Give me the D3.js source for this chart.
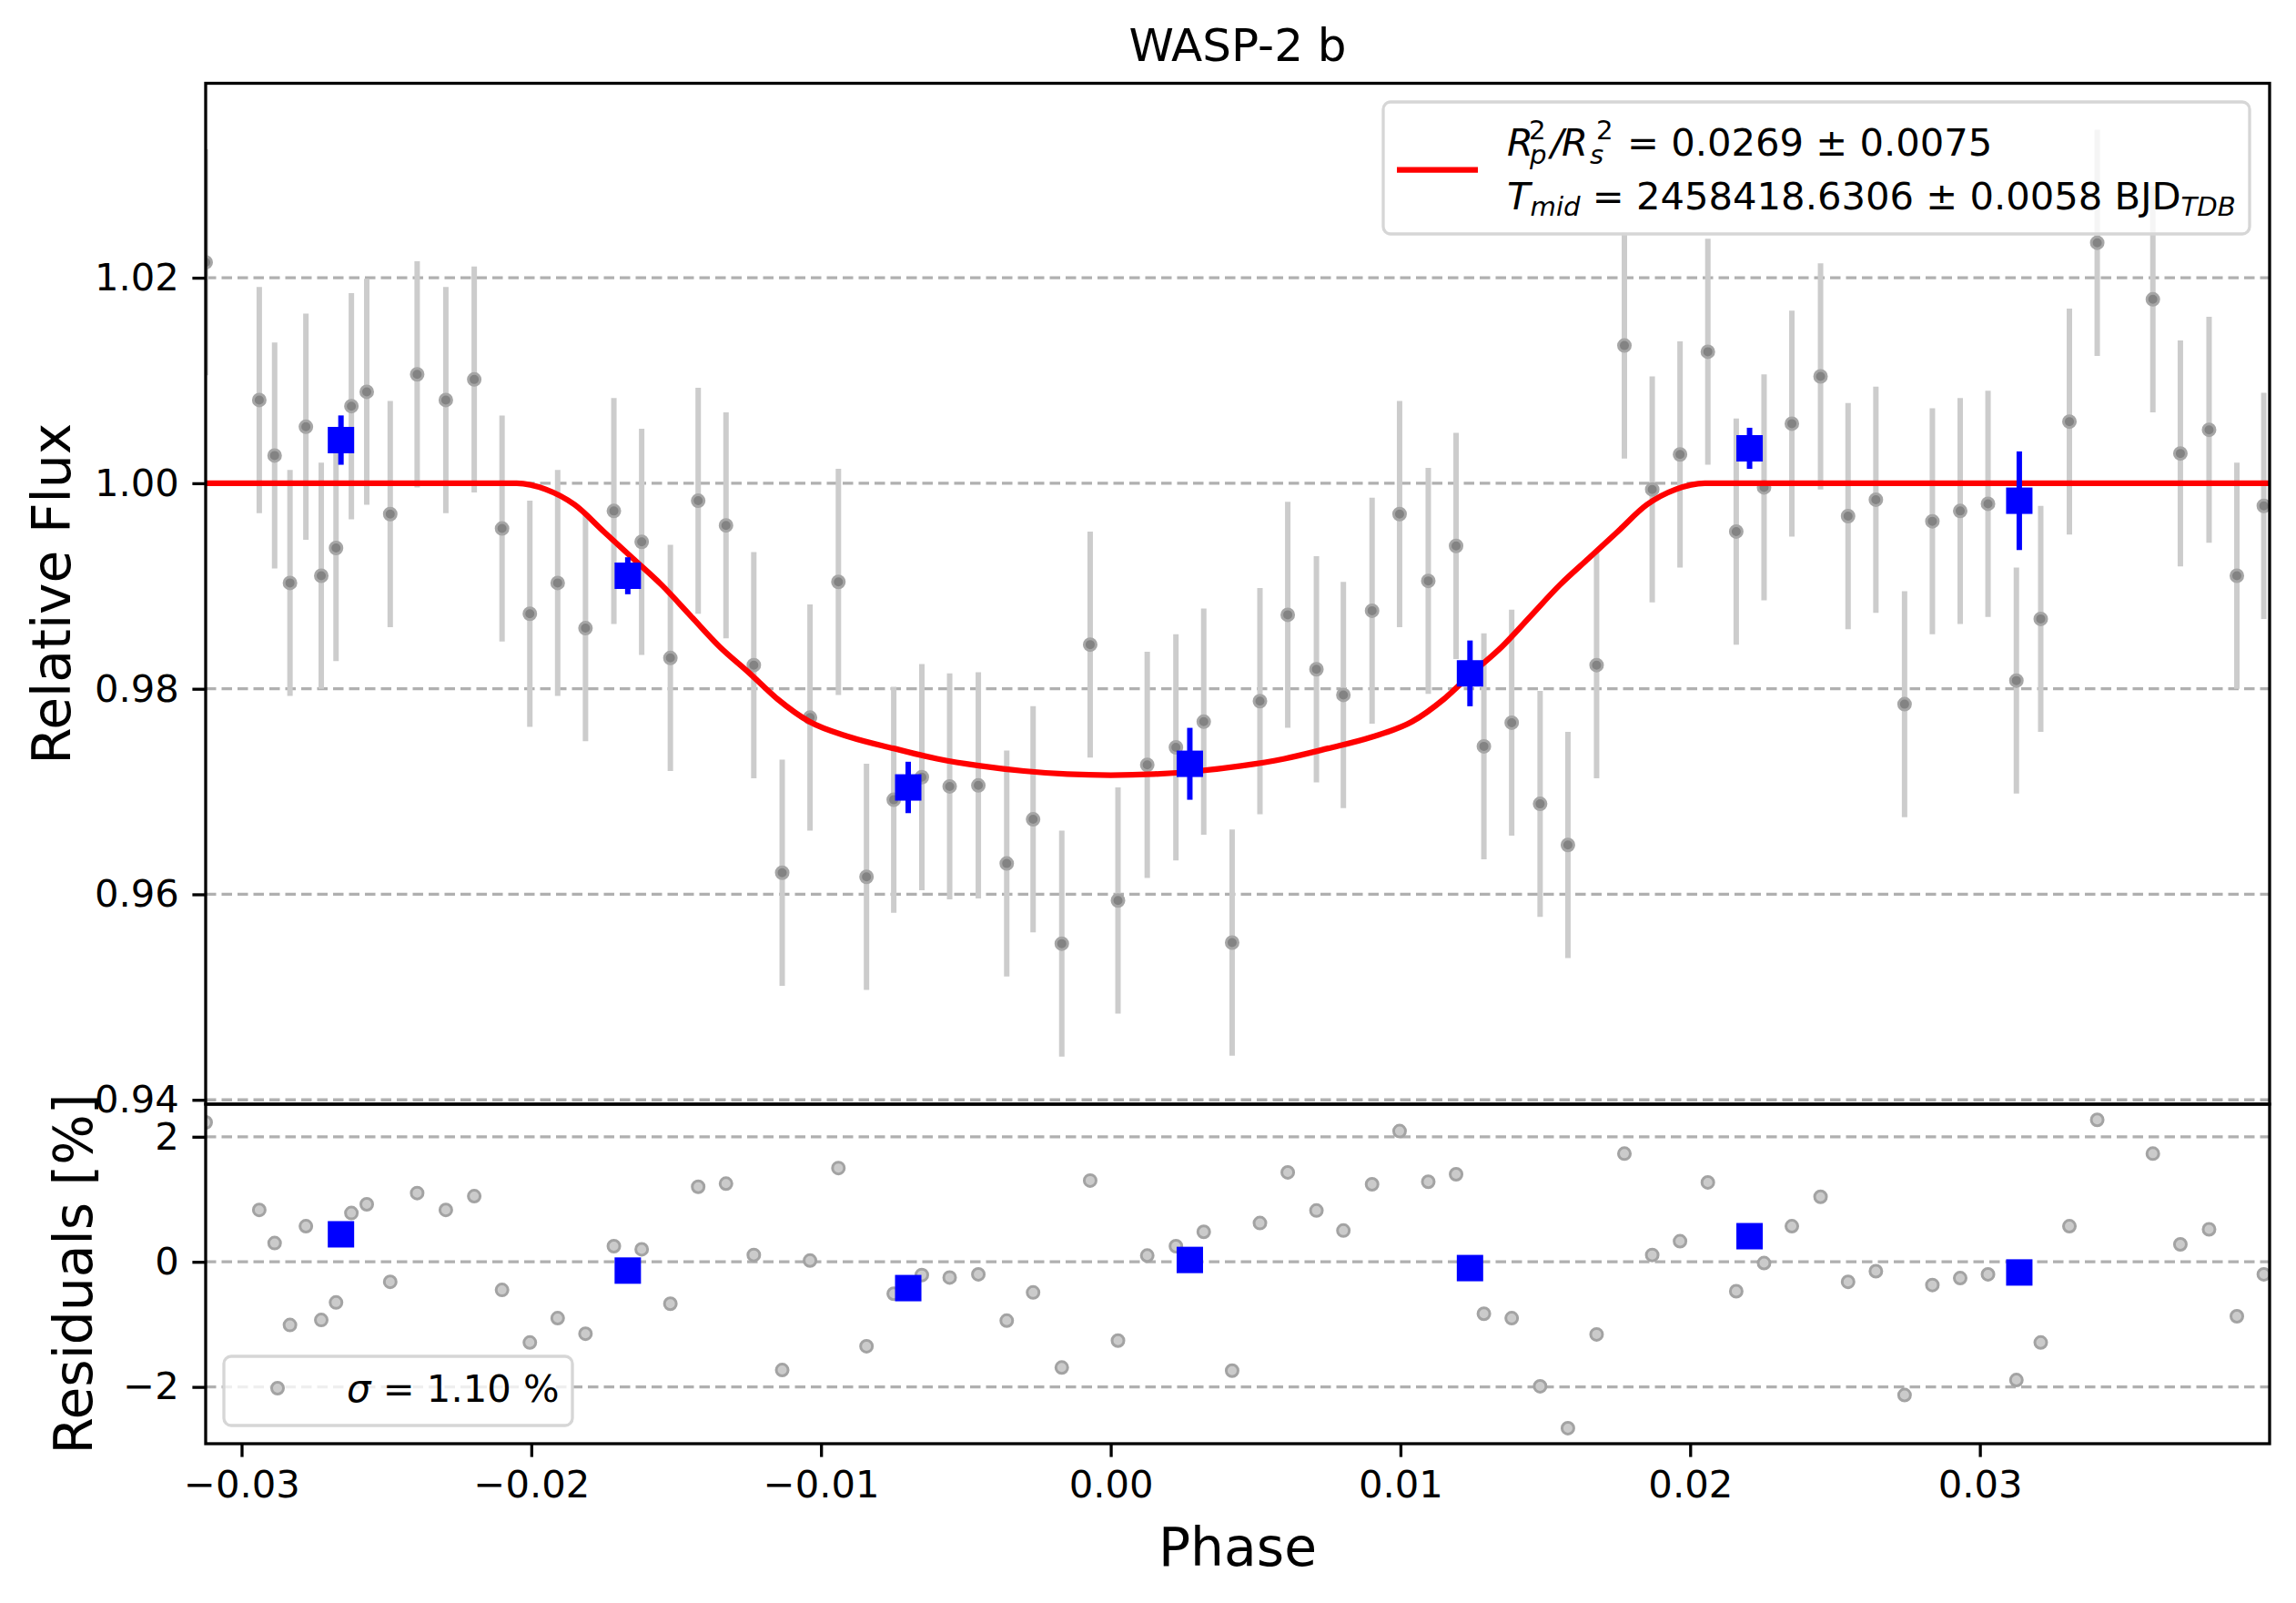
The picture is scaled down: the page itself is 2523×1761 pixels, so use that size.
<!DOCTYPE html>
<html>
<head>
<meta charset="utf-8">
<script src="https://cdn.jsdelivr.net/npm/d3@7"></script>
<style>
  body { margin: 0; background: #fff; }
  svg { display: block; font-family: "DejaVu Sans", sans-serif; }
</style>
</head>
<body>
<div id="chart"></div>
<script>
// phase / flux of the unbinned points
var phase = [-0.03124, -0.02939, -0.02886, -0.02833, -0.02778, -0.02725, -0.02674, -0.02621, -0.02568, -0.02487,
    -0.02394, -0.02295, -0.02197, -0.02101, -0.02005, -0.01909, -0.01813, -0.01715, -0.01619, -0.01520,
    -0.01424, -0.01328, -0.01232, -0.01134, -0.01038, -0.00940, -0.00843, -0.00749, -0.00652, -0.00556,
    -0.00457, -0.00359, -0.00268, -0.00169, -0.00071, 0.00025, 0.00126, 0.00225, 0.00321, 0.00419,
    0.00515, 0.00611, 0.00710, 0.00803, 0.00902, 0.00997, 0.01096, 0.01192, 0.01288, 0.01384,
    0.01482, 0.01578, 0.01677, 0.01773, 0.01869, 0.01965, 0.02061, 0.02159, 0.02255, 0.02351,
    0.02450, 0.02545, 0.02641, 0.02740, 0.02836, 0.02932, 0.03028, 0.03126, 0.03210, 0.03309,
    0.03405, 0.03597, 0.03692, 0.03791, 0.03887, 0.03980];
var flux = [1.0215, 1.0081, 1.0027, 0.9903, 1.0055, 0.9910, 0.9937, 1.0075, 1.0089, 0.9970,
    1.0106, 1.0081, 1.0101, 0.9956, 0.9873, 0.9903, 0.9859, 0.9973, 0.9943, 0.9830,
    0.9983, 0.9959, 0.9823, 0.9621, 0.9772, 0.9904, 0.9617, 0.9692, 0.9714, 0.9705,
    0.9706, 0.9630, 0.9673, 0.9552, 0.9843, 0.9594, 0.9726, 0.9743, 0.9768, 0.9553,
    0.9788, 0.9872, 0.9819, 0.9794, 0.9876, 0.9970, 0.9905, 0.9939, 0.9744, 0.9767,
    0.9688, 0.9648, 0.9823, 1.0134, 0.9994, 1.0028, 1.0128, 0.9953, 0.9996, 1.0058,
    1.0104, 0.9968, 0.9984, 0.9785, 0.9963, 0.9973, 0.9980, 0.9808, 0.9868, 1.0060,
    1.0234, 1.0179, 1.0029, 1.0052, 0.9910, 0.9978];
var fluxErr = 0.011;
var residual = [2.23, 0.83, 0.30, -1.01, 0.57, -0.93, -0.65, 0.78, 0.92, -0.32,
    1.10, 0.83, 1.05, -0.45, -1.29, -0.90, -1.15, 0.25, 0.20, -0.67,
    1.20, 1.25, 0.11, -1.73, 0.02, 1.50, -1.35, -0.51, -0.21, -0.25,
    -0.20, -0.94, -0.49, -1.69, 1.30, -1.26, 0.10, 0.25, 0.48, -1.74,
    0.62, 1.43, 0.82, 0.50, 1.24, 2.09, 1.28, 1.40, -0.83, -0.90,
    -1.99, -2.66, -1.16, 1.73, 0.11, 0.33, 1.27, -0.47, -0.02, 0.57,
    1.04, -0.32, -0.15, -2.13, -0.37, -0.26, -0.20, -1.89, -1.29, 0.57,
    2.27, 1.73, 0.28, 0.52, -0.87, -0.20];

// binned points
var binPhase = [-0.02657, -0.01667, -0.00699, 0.00273, 0.01240, 0.02205, 0.03136];
var binFlux = [1.0042, 0.9910, 0.9704, 0.9727, 0.9815, 1.0034, 0.9983];
var binErr = [0.0024, 0.0018, 0.0025, 0.0035, 0.0032, 0.0020, 0.0048];
var binResidual = [0.44, -0.14, -0.42, 0.03, -0.10, 0.41, -0.17];

// transit model
var modelPhase = [-0.0313, -0.0205, -0.0195, -0.0185, -0.0175, -0.0165, -0.0155, -0.0145, -0.0135, -0.0125,
    -0.0115, -0.0104, -0.0090, -0.0075, -0.0060, -0.0045, -0.0030, -0.0015, 0.0000, 0.0015,
    0.0030, 0.0045, 0.0060, 0.0075, 0.0090, 0.0104, 0.0115, 0.0125, 0.0135, 0.0145,
    0.0155, 0.0165, 0.0175, 0.0185, 0.0195, 0.0205, 0.0400];
var modelFlux = [1.0000, 1.0000, 0.9994, 0.9979, 0.9953, 0.9927, 0.9901, 0.9871, 0.9841, 0.9816,
    0.9790, 0.9768, 0.9753, 0.9742, 0.9732, 0.9725, 0.9720, 0.9717, 0.9716, 0.9717,
    0.9720, 0.9725, 0.9732, 0.9742, 0.9753, 0.9768, 0.9790, 0.9816, 0.9841, 0.9871,
    0.9901, 0.9927, 0.9953, 0.9979, 0.9994, 1.0000, 1.0000];

var xTicks = [-0.03, -0.02, -0.01, 0.00, 0.01, 0.02, 0.03];
var fluxTicks = [0.94, 0.96, 0.98, 1.00, 1.02];
var resTicks = [-2, 0, 2];

var W = 2523, H = 1761;
var axLeft = 226, axRight = 2494, axTop = 91.5, axMid = 1213, axBottom = 1586;
var tickLen = 14.6, lw = 3.3;

var svg = d3.select("#chart").append("svg")
    .attr("width", W)
    .attr("height", H);
svg.append("rect").attr("width", W).attr("height", H).attr("fill", "#fff");

var x = d3.scaleLinear().domain([-0.03124, 0.04]).range([axLeft, axRight]);
var y = d3.scaleLinear().domain([0.93958, 1.03892]).range([axMid, axTop]);
var yr = d3.scaleLinear().domain([-2.908, 2.521]).range([axBottom, axMid]);

var defs = svg.append("defs");
defs.append("clipPath").attr("id", "clipTop")
    .append("rect").attr("x", axLeft).attr("y", axTop).attr("width", axRight - axLeft).attr("height", axMid - axTop);
defs.append("clipPath").attr("id", "clipBot")
    .append("rect").attr("x", axLeft).attr("y", axMid).attr("width", axRight - axLeft).attr("height", axBottom - axMid);

function grid(scale, ticks) {
    svg.append("g").selectAll("line")
        .data(ticks)
        .enter().append("line")
        .attr("x1", axLeft).attr("x2", axRight)
        .attr("y1", function(d) { return scale(d); })
        .attr("y2", function(d) { return scale(d); })
        .attr("stroke", "#b0b0b0")
        .attr("stroke-width", lw)
        .attr("stroke-dasharray", "11.5,6");
}
grid(y, fluxTicks);
grid(yr, resTicks);

var pts = d3.range(phase.length);

// top panel: unbinned data with error bars
var topG = svg.append("g").attr("clip-path", "url(#clipTop)");
topG.selectAll("line.err")
    .data(pts)
    .enter().append("line")
    .attr("class", "err")
    .attr("x1", function(i) { return x(phase[i]); })
    .attr("x2", function(i) { return x(phase[i]); })
    .attr("y1", function(i) { return y(flux[i] - fluxErr); })
    .attr("y2", function(i) { return y(flux[i] + fluxErr); })
    .attr("stroke", "#cccccc")
    .attr("stroke-width", 6);
topG.selectAll("circle")
    .data(pts)
    .enter().append("circle")
    .attr("cx", function(i) { return x(phase[i]); })
    .attr("cy", function(i) { return y(flux[i]); })
    .attr("r", 6.5)
    .style("fill", "#838383")
    .style("stroke", "#a6a6a6")
    .style("stroke-width", 3);

var line = d3.line()
    .x(function(i) { return x(modelPhase[i]); })
    .y(function(i) { return y(modelFlux[i]); })
    .curve(d3.curveMonotoneX);
topG.append("path")
    .attr("d", line(d3.range(modelPhase.length)))
    .attr("fill", "none")
    .attr("stroke", "#ff0000")
    .attr("stroke-width", 6.25);

var bins = d3.range(binPhase.length);
topG.selectAll("line.berr")
    .data(bins)
    .enter().append("line")
    .attr("class", "berr")
    .attr("x1", function(i) { return x(binPhase[i]); })
    .attr("x2", function(i) { return x(binPhase[i]); })
    .attr("y1", function(i) { return y(binFlux[i] - binErr[i]); })
    .attr("y2", function(i) { return y(binFlux[i] + binErr[i]); })
    .attr("stroke", "#0000ff")
    .attr("stroke-width", 6);
topG.selectAll("rect.bin")
    .data(bins)
    .enter().append("rect")
    .attr("class", "bin")
    .attr("x", function(i) { return x(binPhase[i]) - 14.5; })
    .attr("y", function(i) { return y(binFlux[i]) - 14.5; })
    .attr("width", 29).attr("height", 29)
    .attr("fill", "#0000ff");

// bottom panel: residuals
var botG = svg.append("g").attr("clip-path", "url(#clipBot)");
botG.selectAll("circle")
    .data(pts)
    .enter().append("circle")
    .attr("cx", function(i) { return x(phase[i]); })
    .attr("cy", function(i) { return yr(residual[i]); })
    .attr("r", 6.5)
    .style("fill", "#cbcbcb")
    .style("stroke", "#a3a3a3")
    .style("stroke-width", 3);
botG.selectAll("rect")
    .data(bins)
    .enter().append("rect")
    .attr("x", function(i) { return x(binPhase[i]) - 14.5; })
    .attr("y", function(i) { return yr(binResidual[i]) - 14.5; })
    .attr("width", 29).attr("height", 29)
    .attr("fill", "#0000ff");

// frames
[[axTop, axMid], [axMid, axBottom]].forEach(function(b) {
    svg.append("rect")
        .attr("x", axLeft).attr("y", b[0])
        .attr("width", axRight - axLeft).attr("height", b[1] - b[0])
        .attr("fill", "none").attr("stroke", "#000").attr("stroke-width", lw);
});

function styleAxis(g) {
    g.select(".domain").remove();
    g.selectAll(".tick line").attr("stroke", "#000").attr("stroke-width", lw);
    g.selectAll(".tick text").attr("fill", "#000")
        .style("font-family", "DejaVu Sans").style("font-size", "41.7px");
}

svg.append("g")
    .attr("transform", "translate(" + axLeft + ",0)")
    .call(d3.axisLeft(y).tickValues(fluxTicks).tickFormat(d3.format(".2f"))
        .tickSize(tickLen).tickPadding(tickLen))
    .call(styleAxis);
svg.append("g")
    .attr("transform", "translate(" + axLeft + ",0)")
    .call(d3.axisLeft(yr).tickValues(resTicks).tickFormat(d3.format("d"))
        .tickSize(tickLen).tickPadding(tickLen))
    .call(styleAxis);
svg.append("g")
    .attr("transform", "translate(0," + axBottom + ")")
    .call(d3.axisBottom(x).tickValues(xTicks).tickFormat(d3.format(".2f"))
        .tickSize(tickLen).tickPadding(tickLen))
    .call(styleAxis);

// labels
svg.append("text").attr("x", (axLeft + axRight) / 2).attr("y", 67)
    .attr("text-anchor", "middle").style("font-size", "50px").text("WASP-2 b");
svg.append("text").attr("x", (axLeft + axRight) / 2).attr("y", 1720)
    .attr("text-anchor", "middle").style("font-size", "58.3px").text("Phase");
svg.append("text").attr("transform", "translate(77," + (axTop + axMid) / 2 + ") rotate(-90)")
    .attr("text-anchor", "middle").style("font-size", "58.3px").text("Relative Flux");
svg.append("text").attr("transform", "translate(101," + (axMid + axBottom) / 2 + ") rotate(-90)")
    .attr("text-anchor", "middle").style("font-size", "58.3px").text("Residuals [%]");

// legend, top panel
var lg = svg.append("g");
lg.append("rect")
    .attr("x", 1520).attr("y", 112).attr("width", 952).attr("height", 145)
    .attr("rx", 8).attr("ry", 8)
    .attr("fill", "#fff").attr("fill-opacity", 0.8)
    .attr("stroke", "#d6d6d6").attr("stroke-width", 3.3);
lg.append("line")
    .attr("x1", 1535).attr("x2", 1624).attr("y1", 186.5).attr("y2", 186.5)
    .attr("stroke", "#ff0000").attr("stroke-width", 6.25);

// R_p^2 / R_s^2 with stacked scripts
function scripted(g, xPos, supX, subX, base, sup, sub) {
    g.append("text").attr("x", xPos).attr("y", 170.5).style("font-size", "41.7px")
        .style("font-style", "italic").text(base);
    g.append("text").attr("x", supX).attr("y", 152.5).style("font-size", "29.2px").text(sup);
    g.append("text").attr("x", subX).attr("y", 179.5)
        .style("font-size", "29.2px").style("font-style", "italic").text(sub);
}
scripted(lg, 1656, 1680, 1681, "R", "2", "p");
lg.append("text").attr("x", 1704).attr("y", 170.5).style("font-size", "41.7px")
    .style("font-style", "italic").text("/");
scripted(lg, 1716, 1754, 1747, "R", "2", "s");
lg.append("text").attr("x", 1788).attr("y", 170.5).style("font-size", "41.7px")
    .text("= 0.0269 \u00b1 0.0075");

var t2 = lg.append("text").attr("x", 1656).attr("y", 230).style("font-size", "41.7px");
t2.append("tspan").style("font-style", "italic").text("T");
t2.append("tspan").attr("dy", 7).style("font-size", "29.2px").style("font-style", "italic").text("mid");
t2.append("tspan").attr("dy", -7).text(" = 2458418.6306 \u00b1 0.0058 BJD");
t2.append("tspan").attr("dy", 7).style("font-size", "29.2px").style("font-style", "italic").text("TDB");

// legend, residual panel
var lr = svg.append("g");
lr.append("rect")
    .attr("x", 246).attr("y", 1490).attr("width", 383).attr("height", 76)
    .attr("rx", 8).attr("ry", 8)
    .attr("fill", "#fff").attr("fill-opacity", 0.8)
    .attr("stroke", "#d6d6d6").attr("stroke-width", 3.3);
lr.append("circle").attr("cx", 305).attr("cy", 1525).attr("r", 6.5)
    .style("fill", "#cbcbcb").style("stroke", "#a3a3a3").style("stroke-width", 3);
var t3 = lr.append("text").attr("x", 381).attr("y", 1540).style("font-size", "41.7px");
t3.append("tspan").style("font-style", "italic").text("\u03c3");
t3.append("tspan").text(" = 1.10 %");
</script>
</body>
</html>
